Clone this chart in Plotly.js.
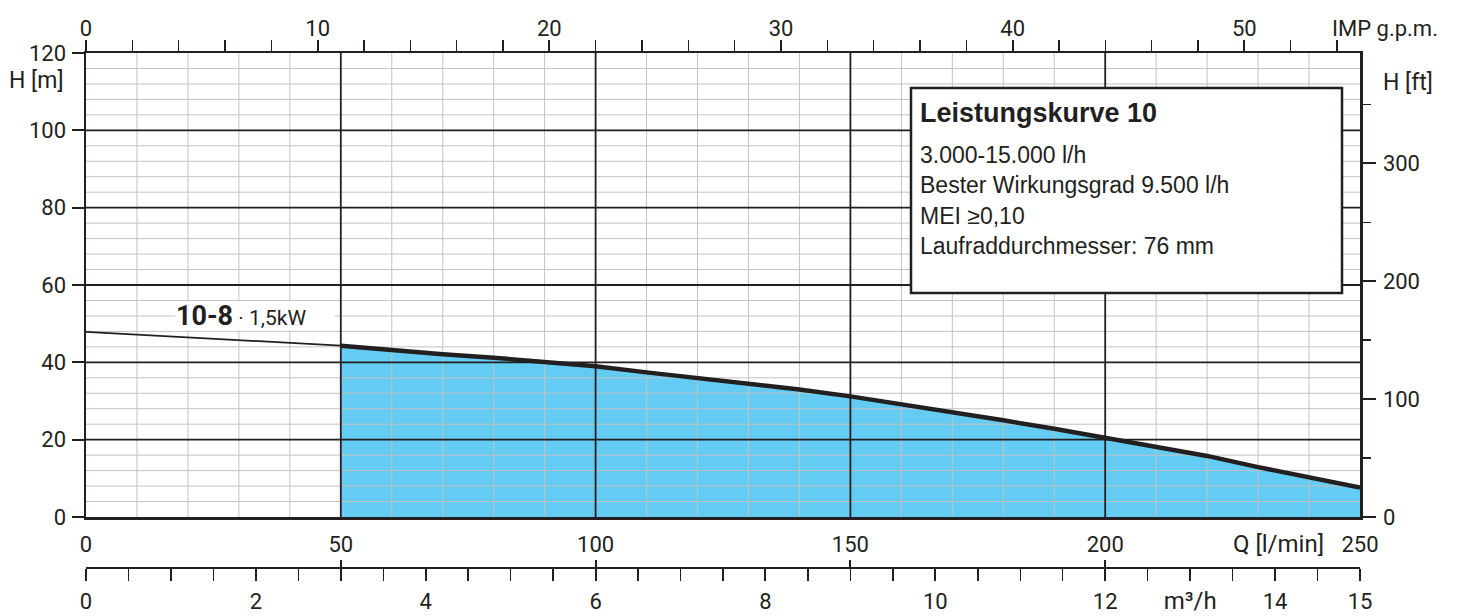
<!DOCTYPE html>
<html>
<head>
<meta charset="utf-8">
<script src="https://cdn.plot.ly/plotly-3.0.1.min.js"></script>
<style>html,body{margin:0;padding:0;background:#fff}#chart{width:1458px;height:616px}</style>
</head>
<body>
<div id="chart"></div>
<script>
// ---- data ----
const flowLpm = [0,10,20,30,40,50,60,70,80,90,100,110,120,130,140,150,160,170,180,190,200,210,220,230,240,250];
const headM   = [47.9,47.2,46.5,45.8,45.1,44.3,43.1,42.1,41.2,40.2,39.0,37.4,35.9,34.6,33.0,31.2,29.2,27.2,25.0,22.8,20.5,18.2,15.8,12.9,10.3,7.6];
const workStartLpm = 50;   // operating range starts at 3 m3/h = 50 l/min

const qTickVals = [0,50,100,150,200,234,250];
const qTickText = ['0','50','100','150','200','<span style="font-size:24px">Q [l/min]</span>','250'];
const hTickVals = [0,20,40,60,80,100,120];
const ftTickVals = [0,100,200,300];
const ftMinorVals = [50,150,250,350];
const gpmTickVals = [0,10,20,30,40,50];
const m3hTickVals = [0,2,4,6,8,10,12,13,14,15];
const m3hTickText = ['0','2','4','6','8','10','12','<span style="font-size:24px">m³/h</span>','14','15'];
const m3hCapVals = [0,3,6,9,12,15];

const boxTitle = 'Leistungskurve 10';
const boxLines = ['3.000-15.000 l/h','Bester Wirkungsgrad 9.500 l/h','MEI ≥0,10','Laufraddurchmesser: 76 mm'];
const curveLabelBold = '10-8';
const curveLabelRest = '1,5kW';

// ---- unit conversions ----
const Q_MAX = 250, H_MAX = 120;
const M_TO_FT = 3.28084, LPM_TO_GPM = 0.219969, LPM_TO_M3H = 0.06;

const DARK = '#231F20';
const MINOR = '#c2c2c2';
const FILL = '#64CCF2';
const FONT = 'Roboto, Liberation Sans, sans-serif';
const BOXFONT = 'Liberation Sans, Arial, sans-serif';

// working-range subset
const fillX = [], fillY = [], thinX = [], thinY = [];
flowLpm.forEach((q,i)=>{ if(q>=workStartLpm){fillX.push(q);fillY.push(headM[i]);} if(q<=workStartLpm){thinX.push(q);thinY.push(headM[i]);} });

// grid lines as traces so that they lie above the blue fill
const gMinX=[],gMinY=[],gMajX=[],gMajY=[];
for(let q=10;q<Q_MAX;q+=10){ const tx=(q%50===0)?gMajX:gMinX, ty=(q%50===0)?gMajY:gMinY; tx.push(q,q,null); ty.push(0,H_MAX,null); }
for(let h=4;h<H_MAX;h+=4){ const tx=(h%20===0)?gMajX:gMinX, ty=(h%20===0)?gMajY:gMinY; tx.push(0,Q_MAX,null); ty.push(h,h,null); }

const hidden = {type:'scatter', mode:'lines', line:{width:0}, opacity:0, hoverinfo:'skip', showlegend:false};
const traces = [
  // same curve expressed on the secondary unit axes (invisible, only to bind those axes)
  Object.assign({x:flowLpm.map(q=>q*LPM_TO_M3H), y:headM, xaxis:'x3', yaxis:'y'}, hidden),
  Object.assign({x:flowLpm.map(q=>q*LPM_TO_M3H), y:headM, xaxis:'x4', yaxis:'y'}, hidden),
  Object.assign({x:flowLpm.map(q=>q*LPM_TO_GPM), y:headM, xaxis:'x2', yaxis:'y'}, hidden),
  Object.assign({x:flowLpm, y:headM.map(h=>h*M_TO_FT), xaxis:'x', yaxis:'y2'}, hidden),
  {x:fillX, y:fillY, type:'scatter', mode:'lines', fill:'tozeroy', fillcolor:FILL, line:{width:0,color:FILL}, hoverinfo:'skip', showlegend:false},
  {x:gMinX, y:gMinY, type:'scatter', mode:'lines', line:{width:1,color:MINOR}, hoverinfo:'skip', showlegend:false},
  {x:gMajX, y:gMajY, type:'scatter', mode:'lines', line:{width:1.8,color:DARK}, hoverinfo:'skip', showlegend:false},
  {x:thinX, y:thinY, type:'scatter', mode:'lines', line:{width:1.8,color:DARK}, hoverinfo:'skip', showlegend:false},
  {x:fillX, y:fillY, type:'scatter', mode:'lines', line:{width:4.5,color:DARK}, hoverinfo:'skip', showlegend:false}
];

const tf = {family:FONT, size:22, color:DARK};
const lf = {family:FONT, size:23, color:DARK};
const yDomLow = (568-517)/515;

const layout = {
  width:1458, height:616,
  margin:{l:86, r:98, t:53, b:48, pad:0},
  paper_bgcolor:'#fff', plot_bgcolor:'rgba(0,0,0,0)',
  showlegend:false,
  xaxis:{domain:[0,1], anchor:'y', range:[0,Q_MAX], tickvals:qTickVals, ticktext:qTickText, ticks:'', showgrid:false, zeroline:false,
         showline:true, linewidth:2.5, linecolor:DARK, tickfont:tf, ticklabelstandoff:6, layer:'above traces'},
  yaxis:{domain:[yDomLow,1], anchor:'x', range:[0,H_MAX], tickvals:hTickVals, ticks:'outside', ticklen:12, tickwidth:2, tickcolor:DARK,
         showgrid:false, zeroline:false, showline:true, linewidth:2.5, linecolor:DARK, tickfont:tf, ticklabelstandoff:1, layer:'above traces'},
  xaxis2:{overlaying:'x', side:'top', anchor:'y', range:[0,Q_MAX*LPM_TO_GPM], tickvals:gpmTickVals, ticks:'outside', ticklen:11, tickwidth:2, tickcolor:DARK,
          minor:{dtick:2, tick0:0, ticks:'outside', ticklen:11, tickwidth:1.5, tickcolor:DARK, showgrid:false},
          showgrid:false, zeroline:false, showline:true, linewidth:2.5, linecolor:DARK, tickfont:tf, ticklabelstandoff:-5, layer:'above traces'},
  yaxis2:{overlaying:'y', side:'right', anchor:'x', range:[0,H_MAX*M_TO_FT], tickvals:ftTickVals, ticks:'outside', ticklen:13, tickwidth:2, tickcolor:DARK,
          minor:{tickvals:ftMinorVals, ticks:'outside', ticklen:8, tickwidth:1.5, tickcolor:DARK, showgrid:false},
          showgrid:false, zeroline:false, showline:true, linewidth:2.5, linecolor:DARK, tickfont:tf, ticklabelstandoff:3, layer:'above traces'},
  xaxis3:{domain:[0,1], anchor:'free', position:0, range:[0,Q_MAX*LPM_TO_M3H], tickvals:m3hTickVals, ticktext:m3hTickText,
          ticks:'outside', ticklen:12, tickwidth:2, tickcolor:DARK,
          minor:{dtick:0.5, tick0:0, ticks:'outside', ticklen:12, tickwidth:1.5, tickcolor:DARK, showgrid:false},
          showgrid:false, zeroline:false, showline:true, linewidth:2, linecolor:DARK, tickfont:tf, ticklabelstandoff:2},
  xaxis4:{overlaying:'x3', anchor:'free', position:0, range:[0,Q_MAX*LPM_TO_M3H], tickvals:m3hCapVals, ticks:'inside', ticklen:8, tickwidth:2,
          tickcolor:DARK, showticklabels:false, showgrid:false, zeroline:false, showline:false},
  shapes:[
    {type:'rect', xref:'paper', yref:'paper', x0:(911-86)/1274, x1:(1342-86)/1274, y0:(568-293)/515, y1:(568-88)/515,
     line:{color:DARK,width:2.5}, fillcolor:'#fff', layer:'above'}
  ],
  annotations:[
    {xref:'paper', yref:'paper', x:(36-86)/1274, y:(568-80)/515, text:'H [m]', showarrow:false, xanchor:'center', yanchor:'middle', font:lf},
    {xref:'paper', yref:'paper', x:(1408-86)/1274, y:(568-82)/515, text:'H [ft]', showarrow:false, xanchor:'center', yanchor:'middle', font:lf},
    {xref:'paper', yref:'paper', x:(1385-86)/1274, y:(568-28)/515, text:'IMP g.p.m.', showarrow:false, xanchor:'center', yanchor:'middle', font:{family:FONT,size:22,color:DARK}},
    {xref:'paper', yref:'paper', x:(255-86)/1274, y:(568-316)/515, showarrow:false, xanchor:'center', yanchor:'middle',
     text:'<b>'+curveLabelBold+'</b><span style="font-size:21px"> · '+curveLabelRest+'</span>', font:{family:FONT,size:27,color:DARK},
     bgcolor:'#fff', borderpad:0, width:158, height:28, align:'left'},
    {xref:'paper', yref:'paper', x:(918-86)/1274, y:(568-113)/515, text:'<b>'+boxTitle+'</b>', showarrow:false, xanchor:'left', yanchor:'middle',
     font:{family:BOXFONT,size:27,color:DARK}}
  ].concat(boxLines.map((t,i)=>({xref:'paper', yref:'paper', x:(918-86)/1274, y:(568-[155,185,216,246][i])/515, text:t, showarrow:false,
     xanchor:'left', yanchor:'middle', font:{family:BOXFONT,size:23,color:DARK}})))
};

Plotly.newPlot('chart', traces, layout, {staticPlot:true, displayModeBar:false});
</script>
</body>
</html>
